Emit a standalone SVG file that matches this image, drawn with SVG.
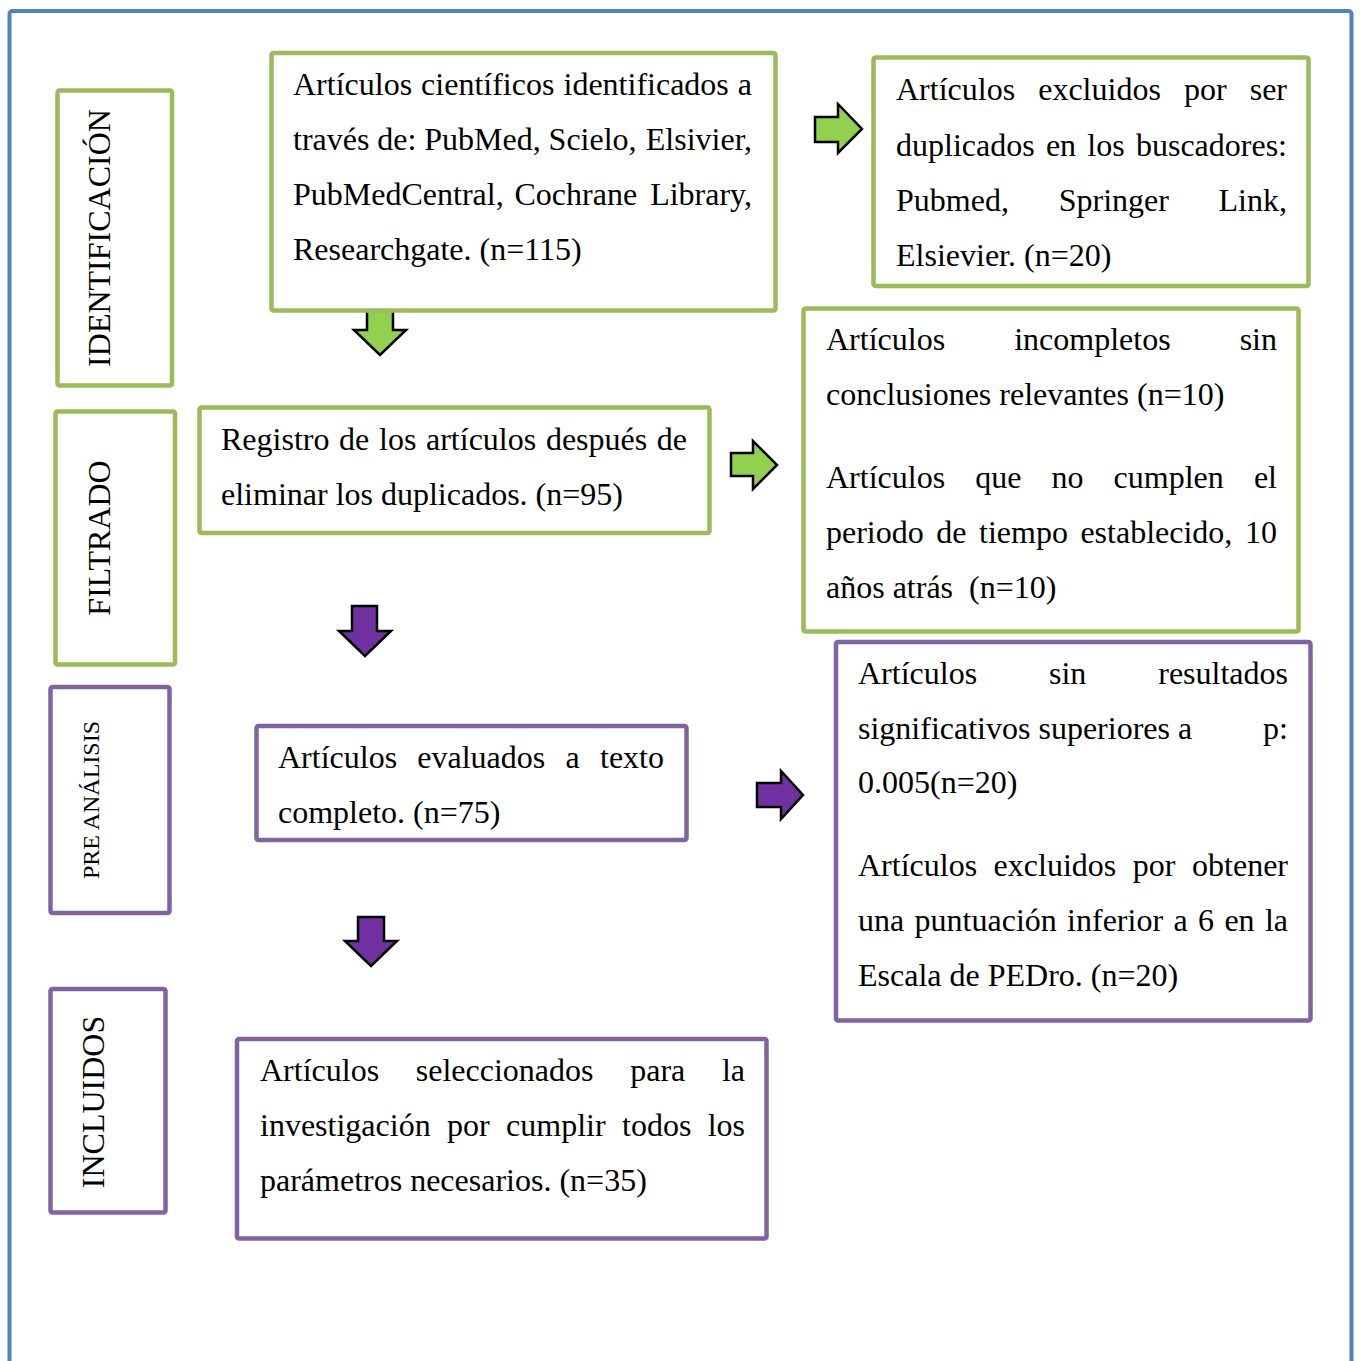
<svg xmlns="http://www.w3.org/2000/svg" width="1360" height="1361" viewBox="0 0 1360 1361">
<style>
.bg{fill:#ffffff}
.outer{fill:none;stroke:#5281BF;stroke-width:4}
.g{fill:#ffffff;stroke:#9BBB59;stroke-width:4.5}
.p{fill:#ffffff;stroke:#8064A2;stroke-width:4.5}
.ag{fill:#92D050;stroke:#000000;stroke-width:2.5;stroke-linejoin:miter}
.ap{fill:#7030A0;stroke:#000000;stroke-width:2.5;stroke-linejoin:miter}
text{font-family:"Liberation Serif","Times New Roman",serif;font-size:32px;fill:#000000}
.e{text-anchor:end}
.v{text-anchor:middle}
.s{font-size:24px}
</style>
<rect class="bg" x="0" y="0" width="1360" height="1361"/>
<rect class="outer" x="9.5" y="11" width="1342" height="1420" rx="3"/>

<g id="connectors">
<polygon class="ag" points="367,305 393,305 393,330 406,330 380,355 354,330 367,330"/>
<polygon class="ap" points="352,606 377,606 377,631 391,631 365,656 339,631 352,631"/>
<polygon class="ap" points="358,917 384,917 384,941 397,941 371,966 345,941 358,941"/>
<polygon class="ag" points="815,117 838,117 838,104 862,129 838,153 838,142 815,142"/>
<polygon class="ag" points="731,453 753,453 753,441 777,465 753,489 753,476 731,476"/>
<polygon class="ap" points="757,783 781,783 781,771 803,795 781,819 781,807 757,807"/>
</g>

<g id="label-identificacion">
<rect class="g" x="57.5" y="90.5" width="114.5" height="295" rx="2"/>
<text class="v" transform="translate(110,238) rotate(-90)">IDENTIFICACIÓN</text>
</g>
<g id="label-filtrado">
<rect class="g" x="55.5" y="411.5" width="119.5" height="253" rx="2"/>
<text class="v" transform="translate(110,538) rotate(-90)">FILTRADO</text>
</g>
<g id="label-preanalisis">
<rect class="p" x="50.5" y="687" width="119" height="226" rx="2"/>
<text class="v s" transform="translate(99,800) rotate(-90)">PRE ANÁLISIS</text>
</g>
<g id="label-incluidos">
<rect class="p" x="50.5" y="989" width="115" height="223.5" rx="2"/>
<text class="v" transform="translate(104,1102) rotate(-90)">INCLUIDOS</text>
</g>

<g id="node-identificados">
<rect class="g" x="271.5" y="53" width="504" height="257.5" rx="2"/>
<text x="293" y="95">Artículos</text><text x="421.1" y="95">científicos</text><text x="563.5" y="95">identificados</text><text class="e" x="752" y="95">a</text>
<text x="293" y="150">través</text><text x="377.3" y="150">de:</text><text x="424.3" y="150">PubMed,</text><text x="548.6" y="150">Scielo,</text><text class="e" x="752" y="150">Elsivier,</text>
<text x="293" y="205">PubMedCentral,</text><text x="514.5" y="205">Cochrane</text><text class="e" x="752" y="205">Library,</text>
<text x="293" y="260">Researchgate. (n=115)</text>
</g>

<g id="node-duplicados">
<rect class="g" x="873.5" y="57.5" width="435" height="228.5" rx="2"/>
<text x="896" y="100">Artículos</text><text x="1038.2" y="100">excluidos</text><text x="1184" y="100">por</text><text class="e" x="1287" y="100">ser</text>
<text x="896" y="156">duplicados</text><text x="1045.9" y="156">en</text><text x="1087.3" y="156">los</text><text class="e" x="1287" y="156">buscadores:</text>
<text x="896" y="211">Pubmed,</text><text x="1058.7" y="211">Springer</text><text class="e" x="1287" y="211">Link,</text>
<text x="896" y="266">Elsievier. (n=20)</text>
</g>

<g id="node-registro">
<rect class="g" x="199.5" y="407.5" width="510" height="125.5" rx="2"/>
<text x="221" y="450">Registro</text><text x="339.1" y="450">de</text><text x="379" y="450">los</text><text x="426" y="450">artículos</text><text x="545.9" y="450">después</text><text class="e" x="687" y="450">de</text>
<text x="221" y="505">eliminar los duplicados. (n=95)</text>
</g>

<g id="node-incompletos">
<rect class="g" x="803.5" y="308.5" width="495" height="323" rx="2"/>
<text x="826" y="350">Artículos</text><text x="1014.2" y="350">incompletos</text><text class="e" x="1277" y="350">sin</text>
<text x="826" y="405">conclusiones relevantes (n=10)</text>
<text x="826" y="488">Artículos</text><text x="975.2" y="488">que</text><text x="1051.5" y="488">no</text><text x="1113.6" y="488">cumplen</text><text class="e" x="1277" y="488">el</text>
<text x="826" y="543">periodo</text><text x="936.3" y="543">de</text><text x="979" y="543">tiempo</text><text x="1080.4" y="543">establecido,</text><text class="e" x="1277" y="543">10</text>
<text x="826" y="598">años atrás</text><text x="969" y="598">(n=10)</text>
</g>

<g id="node-evaluados">
<rect class="p" x="256.5" y="726" width="430" height="114" rx="2"/>
<text x="278" y="768">Artículos</text><text x="417.3" y="768">evaluados</text><text x="565.5" y="768">a</text><text class="e" x="664" y="768">texto</text>
<text x="278" y="823">completo. (n=75)</text>
</g>

<g id="node-sinresultados">
<rect class="p" x="836" y="642" width="474.5" height="378.5" rx="2"/>
<text x="858" y="684">Artículos</text><text x="1049" y="684">sin</text><text class="e" x="1288" y="684">resultados</text>
<text x="858" y="739">significativos superiores a</text><text class="e" x="1288" y="739">p:</text>
<text x="858" y="793">0.005(n=20)</text>
<text x="858" y="876">Artículos</text><text x="993.6" y="876">excluidos</text><text x="1132.8" y="876">por</text><text class="e" x="1288" y="876">obtener</text>
<text x="858" y="931">una</text><text x="914.6" y="931">puntuación</text><text x="1067.1" y="931">inferior</text><text x="1173.5" y="931">a</text><text x="1198" y="931">6</text><text x="1224.4" y="931">en</text><text class="e" x="1288" y="931">la</text>
<text x="858" y="986">Escala de PEDro. (n=20)</text>
</g>

<g id="node-seleccionados">
<rect class="p" x="237" y="1039" width="529.5" height="199.5" rx="2"/>
<text x="260" y="1081">Artículos</text><text x="415.8" y="1081">seleccionados</text><text x="630.2" y="1081">para</text><text class="e" x="745" y="1081">la</text>
<text x="260" y="1136">investigación</text><text x="447.1" y="1136">por</text><text x="506.1" y="1136">cumplir</text><text x="622.1" y="1136">todos</text><text class="e" x="745" y="1136">los</text>
<text x="260" y="1191">parámetros necesarios. (n=35)</text>
</g>
</svg>
